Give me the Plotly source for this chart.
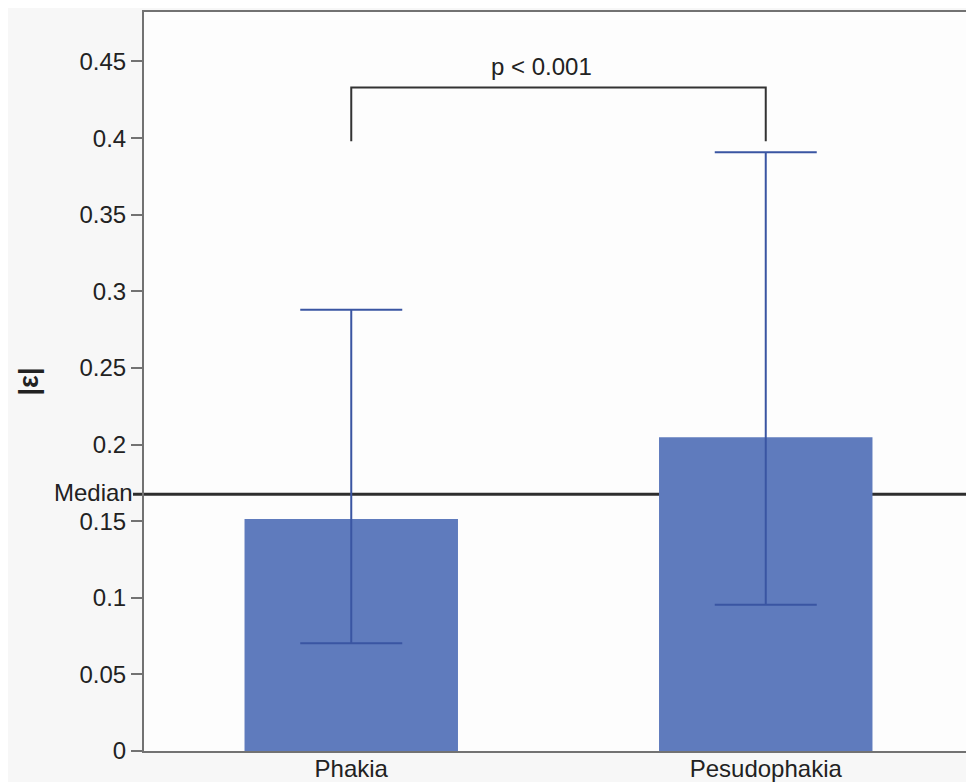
import plotly.graph_objects as go

# Data
categories = ["Phakia", "Pesudophakia"]
bar_values = [0.1514, 0.2048]
err_upper = [0.288, 0.3908]
err_lower = [0.0703, 0.0955]
median_value = 0.1675
bracket_top = 0.433
bracket_leg_bottom = 0.398
p_text = "p < 0.001"
y_tickvals = [0, 0.05, 0.1, 0.15, 0.2, 0.25, 0.3, 0.35, 0.4, 0.45]
y_ticktext = ["0", "0.05", "0.1", "0.15", "0.2", "0.25", "0.3", "0.35", "0.4", "0.45"]

FONT = "Liberation Sans, Arial, sans-serif"
AXIS_GRAY = "#727272"
TEXT = "#222222"

plus = [u - v for u, v in zip(err_upper, bar_values)]
minus = [v - l for v, l in zip(bar_values, err_lower)]

fig = go.Figure()
fig.add_trace(go.Bar(
    x=categories,
    y=bar_values,
    width=0.515,
    marker=dict(color="#5f7bbd", line=dict(width=0)),
    error_y=dict(
        type="data",
        symmetric=False,
        array=plus,
        arrayminus=minus,
        color="#3a55a2",
        thickness=2,
        width=51,
    ),
    showlegend=False,
))

# Median line (behind bars), extends over the tick marks
fig.add_shape(
    type="line", xref="paper", yref="y",
    x0=-0.0133, x1=1, y0=median_value, y1=median_value,
    line=dict(color="#2e2e2e", width=3), layer="below",
)

# Significance bracket
fig.add_shape(
    type="path", xref="x", yref="y",
    path=f"M 0,{bracket_leg_bottom} L 0,{bracket_top} L 1,{bracket_top} L 1,{bracket_leg_bottom}",
    line=dict(color="#333333", width=2), layer="above",
)

fig.add_annotation(
    x=0.46, y=bracket_top, xref="x", yref="y",
    text=p_text, showarrow=False, yanchor="bottom", yshift=6,
    font=dict(family=FONT, size=24, color=TEXT),
)
fig.add_annotation(
    x=-0.0133, y=median_value, xref="paper", yref="y",
    text="Median", showarrow=False, xanchor="right", yanchor="middle",
    yshift=2, xshift=2, font=dict(family=FONT, size=24, color=TEXT),
)
fig.add_annotation(
    x=-0.14, y=0.5, xref="paper", yref="paper",
    text="<b>|ε|</b>", showarrow=False, textangle=-90, xshift=-16,
    font=dict(family=FONT, size=27, color=TEXT),
)

fig.update_layout(
    width=966, height=774,
    margin=dict(l=136, r=1, t=4, b=31, autoexpand=False),
    paper_bgcolor="#f7f7f7",
    plot_bgcolor="#fdfdfd",
    font=dict(family=FONT, size=24, color=TEXT),
    bargap=0.485,
)
fig.update_xaxes(
    range=[-0.5, 1.5],
    showline=True, linecolor=AXIS_GRAY, linewidth=2, mirror=True,
    showgrid=False, zeroline=False, ticks="",
    ticklabelstandoff=-5,
    tickfont=dict(family=FONT, size=24, color=TEXT),
)
fig.update_yaxes(
    range=[0, 0.4823],
    tickvals=y_tickvals, ticktext=y_ticktext,
    showline=True, linecolor=AXIS_GRAY, linewidth=2, mirror=True,
    showgrid=False, zeroline=False,
    ticks="outside", ticklen=11, tickwidth=2, tickcolor=AXIS_GRAY,
    tickfont=dict(family=FONT, size=24, color=TEXT),
)

fig.write_html("out.html")
